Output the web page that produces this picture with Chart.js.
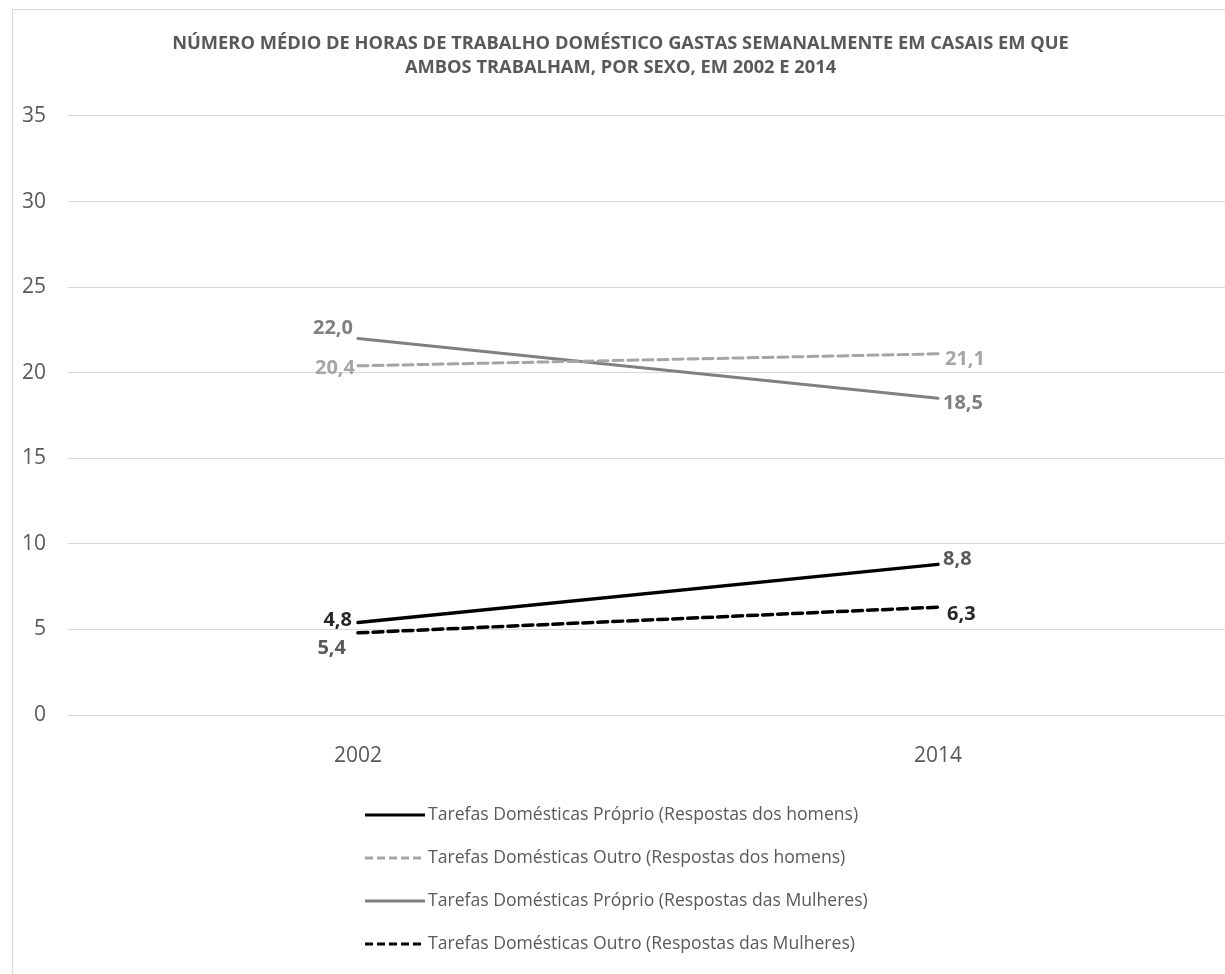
<!DOCTYPE html>
<html>
<head>
<meta charset="utf-8">
<script src="https://cdn.jsdelivr.net/npm/chart.js@4"></script>
<style>
  html, body { margin: 0; padding: 0; background: #fff; overflow: hidden; }
  #frame {
    position: absolute; left: 12px; top: 9px;
    width: 1240px; height: 990px;
    border: 1px solid #d9d9d9; background: #fff;
  }
</style>
</head>
<body>
<div id="frame"><canvas id="hoursChart" width="1240" height="990"></canvas></div>
<script>
// Values
const years = ['2002', '2014'];
const proprioHomens = [5.4, 8.8];
const outroHomens = [20.4, 21.1];
const proprioMulheres = [22.0, 18.5];
const outroMulheres = [4.8, 6.3];

const seriesNames = [
    'Tarefas Domésticas Próprio (Respostas dos homens)',
    'Tarefas Domésticas Outro (Respostas dos homens)',
    'Tarefas Domésticas Próprio (Respostas das Mulheres)',
    'Tarefas Domésticas Outro (Respostas das Mulheres)'
];
const titleLines = [
    'NÚMERO MÉDIO DE HORAS DE TRABALHO DOMÉSTICO GASTAS SEMANALMENTE EM CASAIS EM QUE',
    'AMBOS TRABALHAM, POR SEXO, EM 2002 E 2014'
];

const FONT = "'Open Sans', sans-serif";
const TEXT = '#595959';

const fmt = (v) => v.toFixed(1).replace('.', ',');

// Draws the value labels next to each point
const valueLabels = {
    id: 'valueLabels',
    afterDatasetsDraw(chart) {
        const ctx = chart.ctx;
        ctx.save();
        ctx.font = `bold 20px ${FONT}`;
        ctx.textBaseline = 'middle';
        chart.data.datasets.forEach((ds, i) => {
            const meta = chart.getDatasetMeta(i);
            meta.data.forEach((pt, j) => {
                const off = ds.labelOffsets[j];
                ctx.fillStyle = ds.labelColor;
                ctx.textAlign = off[0] < 0 ? 'right' : 'left';
                ctx.fillText(fmt(ds.data[j]), pt.x + off[0], pt.y + off[1]);
            });
        });
        ctx.restore();
    }
};

// Vertical legend under the x axis
const stackedLegend = {
    id: 'stackedLegend',
    afterDraw(chart) {
        const ctx = chart.ctx;
        const left = chart.chartArea.left + 297;
        const top = chart.chartArea.bottom + 100;
        ctx.save();
        ctx.font = `17.6px ${FONT}`;
        ctx.textBaseline = 'middle';
        ctx.textAlign = 'left';
        chart.data.datasets.forEach((ds, i) => {
            const y = top + i * 43;
            ctx.beginPath();
            ctx.strokeStyle = ds.borderColor;
            ctx.lineWidth = 3;
            ctx.setLineDash(ds.borderDash.length ? [8, 4] : []);
            ctx.moveTo(left, y);
            ctx.lineTo(left + 60, y);
            ctx.stroke();
            ctx.setLineDash([]);
            ctx.fillStyle = TEXT;
            ctx.fillText(ds.label, left + 63, y);
        });
        ctx.restore();
    }
};

const ctx = document.getElementById('hoursChart').getContext('2d');

new Chart(ctx, {
    type: 'line',
    data: {
        labels: years,
        datasets: [
            {
                label: seriesNames[0],
                data: proprioHomens,
                borderColor: '#000000',
                borderDash: [],
                borderWidth: 3.5,
                labelColor: '#595959',
                labelOffsets: [[-12, 26], [5, -5]]
            },
            {
                label: seriesNames[1],
                data: outroHomens,
                borderColor: '#a5a5a5',
                borderDash: [10, 5],
                labelColor: '#a5a5a5',
                labelOffsets: [[-3, 2], [7, 5]]
            },
            {
                label: seriesNames[2],
                data: proprioMulheres,
                borderColor: '#808080',
                borderDash: [],
                labelColor: '#7f7f7f',
                labelOffsets: [[-5, -10], [5, 5]]
            },
            {
                label: seriesNames[3],
                data: outroMulheres,
                borderColor: '#000000',
                borderDash: [10, 5],
                borderWidth: 3.5,
                labelColor: '#262626',
                labelOffsets: [[-6, -13], [9, 7]]
            }
        ]
    },
    options: {
        responsive: false,
        animation: false,
        devicePixelRatio: 1,
        elements: {
            line: { borderWidth: 3, tension: 0, borderCapStyle: 'round' },
            point: { radius: 0, hoverRadius: 0 }
        },
        layout: { padding: { top: 0, right: 25, bottom: 225, left: 0 } },
        plugins: {
            legend: { display: false },
            tooltip: { enabled: false },
            title: {
                display: true,
                text: titleLines,
                color: TEXT,
                font: { family: FONT, size: 18.3, weight: 'bold', lineHeight: 1.31 },
                padding: { top: 22, bottom: 36 }
            }
        },
        scales: {
            x: {
                offset: true,
                grid: { display: false },
                border: { display: false },
                ticks: {
                    color: TEXT,
                    font: { family: FONT, size: 21 },
                    padding: 20
                },
                afterFit: (scale) => { scale.height = 60; }
            },
            y: {
                min: 0,
                max: 35,
                grid: { color: '#d9d9d9', lineWidth: 1, drawTicks: false },
                border: { display: false },
                ticks: {
                    stepSize: 5,
                    color: TEXT,
                    font: { family: FONT, size: 21 },
                    padding: 22
                },
                afterFit: (scale) => { scale.width = 55; }
            }
        }
    },
    plugins: [valueLabels, stackedLegend]
});
</script>
</body>
</html>
